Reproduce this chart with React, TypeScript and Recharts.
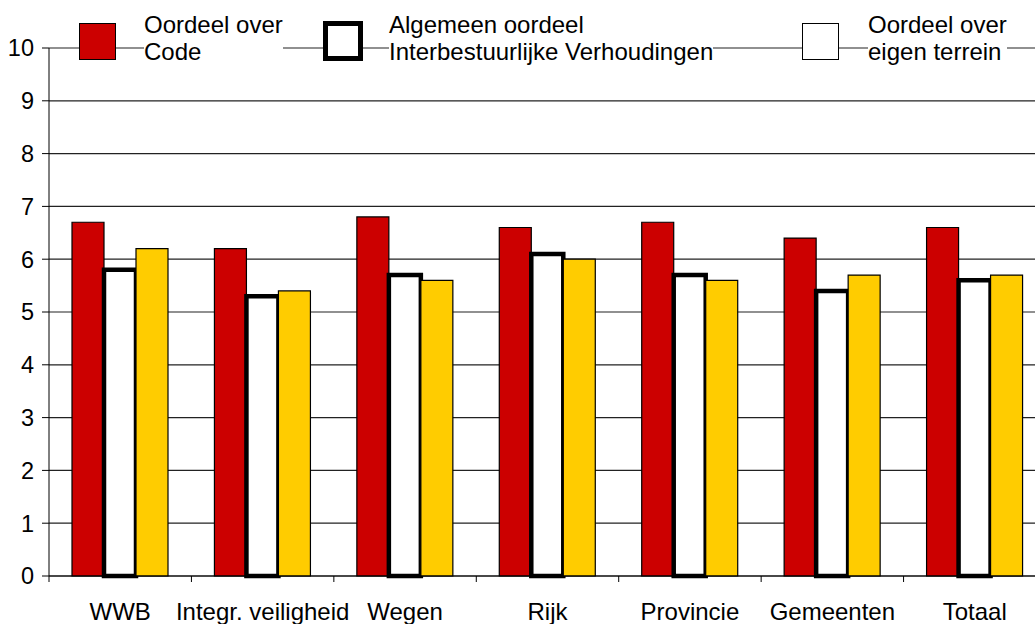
import { Bar, BarChart, CartesianGrid, XAxis, YAxis } from "recharts";

const categories = ["WWB", "Integr. veiligheid", "Wegen", "Rijk", "Provincie", "Gemeenten", "Totaal"];
const oordeelCode = [6.7, 6.2, 6.8, 6.6, 6.7, 6.4, 6.6];
const algemeenOordeel = [5.8, 5.3, 5.7, 6.1, 5.7, 5.4, 5.6];
const eigenTerrein = [6.2, 5.4, 5.6, 6.0, 5.6, 5.7, 5.7];
const yTicks = [0, 1, 2, 3, 4, 5, 6, 7, 8, 9, 10];

const legendItems = [
  { lines: ["Oordeel over", "Code"], fill: "#CC0000", border: 1.5 },
  { lines: ["Algemeen oordeel", "Interbestuurlijke Verhoudingen"], fill: "#FFFFFF", border: 5 },
  { lines: ["Oordeel over", "eigen terrein"], fill: "#FFFFFF", border: 1.5 },
];

const data = categories.map((name, i) => ({
  name,
  code: oordeelCode[i],
  algemeen: algemeenOordeel[i],
  eigen: eigenTerrein[i],
}));

const FONT = '"Liberation Sans", Arial, sans-serif';
const W = 1046;
const LEFT = 49;
const BAND = (W - LEFT) / categories.length;

function XTick(props: any) {
  const { x, y, payload } = props;
  const bx = x - BAND / 2;
  return (
    <g>
      <line x1={bx} x2={bx} y1={y - 6} y2={y} stroke="#000" strokeWidth={1} />
      <text x={x} y={y + 38} textAnchor="middle" fontSize={24} fontFamily={FONT} fill="#000">
        {payload.value}
      </text>
    </g>
  );
}

// swatch x, text x per legend item
const swatchX = [79, 323, 802];
const textX = [144, 389, 868];

export default function App() {
  return (
    <div
      style={{
        position: "absolute",
        left: 0,
        top: 0,
        width: 1035,
        height: 624,
        overflow: "hidden",
        background: "#fff",
        fontFamily: FONT,
      }}
    >
      <BarChart
        width={W}
        height={624}
        data={data}
        margin={{ top: 48, right: 0, bottom: 0, left: 0 }}
        barCategoryGap={23}
        barGap={0}
      >
        <CartesianGrid vertical={false} stroke="#222" strokeWidth={1.2} />
        <XAxis
          dataKey="name"
          height={48}
          tickSize={6}
          tickMargin={0}
          tickLine={false}
          axisLine={{ stroke: "#000" }}
          tick={<XTick />}
          interval={0}
        />
        <YAxis
          width={LEFT}
          domain={[0, 10]}
          ticks={yTicks}
          tickSize={7}
          tickMargin={8}
          axisLine={{ stroke: "#000" }}
          tickLine={{ stroke: "#000" }}
          tick={{ fill: "#000", fontSize: 23.5, fontFamily: FONT }}
        />
        <Bar dataKey="code" fill="#CC0000" stroke="#000" strokeWidth={1.2} isAnimationActive={false} />
        <Bar dataKey="algemeen" fill="#FFFFFF" stroke="#000" strokeWidth={4.5} isAnimationActive={false} />
        <Bar dataKey="eigen" fill="#FFCC00" stroke="#000" strokeWidth={1.2} isAnimationActive={false} />
      </BarChart>
      {legendItems.map((it, i) => (
        <div key={i}>
          <div
            style={{
              position: "absolute",
              left: swatchX[i],
              top: it.border > 2 ? 21 : 23,
              width: it.border > 2 ? 40 : 37,
              height: it.border > 2 ? 40 : 37,
              boxSizing: "border-box",
              background: it.fill,
              border: `${it.border}px solid #000`,
            }}
          />
          <div
            style={{
              position: "absolute",
              left: textX[i],
              top: 11,
              fontSize: 24,
              lineHeight: "27px",
              color: "#000",
              background: "#fff",
              whiteSpace: "nowrap",
            }}
          >
            {it.lines.map((l, j) => (
              <div key={j}>{l}</div>
            ))}
          </div>
        </div>
      ))}
    </div>
  );
}
